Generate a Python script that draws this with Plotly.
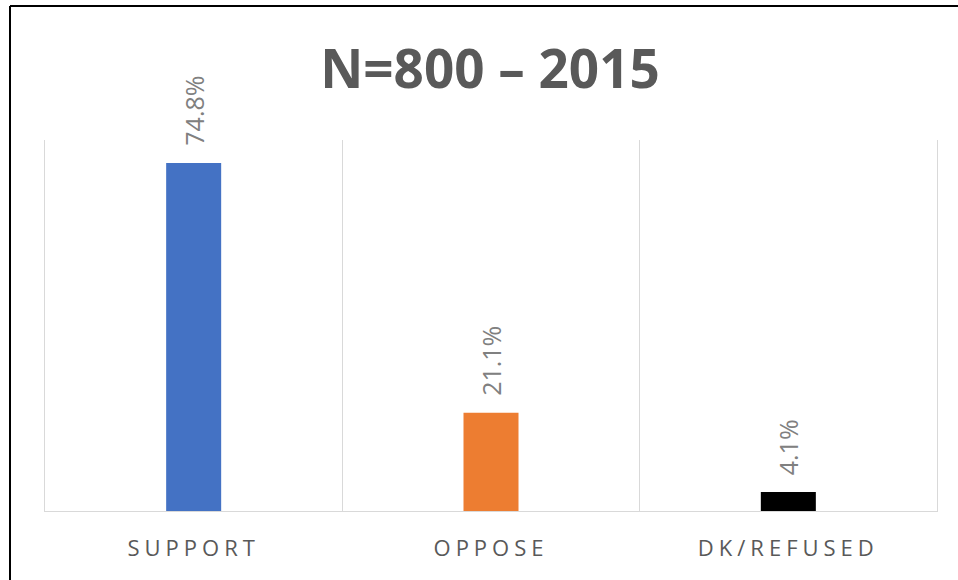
import plotly.graph_objects as go

categories = ["SUPPORT", "OPPOSE", "DK/REFUSED"]
values = [74.8, 21.1, 4.1]
labels = ["74.8%", "21.1%", "4.1%"]
colors = ["#4472C4", "#ED7D31", "#000000"]
title_text = "N=800 \u2013 2015"

W, H = 958, 580
ML, MR, MT, MB = 45, 21, 140, 69
PW, PH = W - ML - MR, H - MT - MB

fig = go.Figure()
fig.add_trace(go.Bar(
    x=categories, y=values, marker=dict(color=colors, line=dict(width=0)),
    hoverinfo="skip", showlegend=False,
))

for c, v, t in zip(categories, values, labels):
    fig.add_annotation(
        x=c, y=v, text=t, textangle=-90, showarrow=False,
        xanchor="center", yanchor="bottom", yshift=15,
        font=dict(family="Open Sans", size=25, color="#808080"),
    )

# outer chart border: only the top and left edges fall inside the picture
bx0, by_top = (10 - ML) / PW, (H - 6 - MB) / PH
bx1, by_bot = (W - ML - MR + MR) / PW, -MB / PH
border = dict(color="#000000", width=2)
fig.add_shape(type="line", xref="paper", yref="paper", x0=bx0, x1=bx1, y0=by_top, y1=by_top,
              line=border, layer="above")
fig.add_shape(type="line", xref="paper", yref="paper", x0=bx0, x1=bx0, y0=by_top, y1=by_bot,
              line=border, layer="above")

fig.update_layout(
    width=W, height=H,
    margin=dict(l=ML, r=MR, t=MT, b=MB, pad=0),
    paper_bgcolor="white", plot_bgcolor="white",
    bargap=0.815,
    title=dict(
        text=title_text, x=(490) / W, xanchor="center", y=1 - 69 / H, yanchor="middle",
        font=dict(family="Open Sans", size=53, color="#595959", weight="bold"),
    ),
    xaxis=dict(
        type="category", range=[-0.5, 2.5], tickson="boundaries",
        showgrid=True, gridcolor="#d9d9d9", gridwidth=1,
        showline=True, linecolor="#d9d9d9", linewidth=1,
        ticks="", ticklabelstandoff=18,
        tickfont=dict(family="Open Sans", size=22, color="#595959"),
        fixedrange=True,
    ),
    yaxis=dict(
        range=[0, 79.75], showgrid=False, zeroline=False, showticklabels=False,
        showline=True, mirror=True, linecolor="#d9d9d9", linewidth=1,
        ticks="", fixedrange=True,
    ),
)

post = """
document.body.style.margin='0';
document.body.style.overflow='hidden';
var gd = document.getElementById('{plot_id}');
function ls(){ gd.querySelectorAll('.xtick text').forEach(function(t){ t.style.letterSpacing='5px'; }); }
ls(); setTimeout(ls, 50); if (gd.on) gd.on('plotly_afterplot', ls);
"""
fig.write_html("out.html", post_script=post, config={"displayModeBar": False})
